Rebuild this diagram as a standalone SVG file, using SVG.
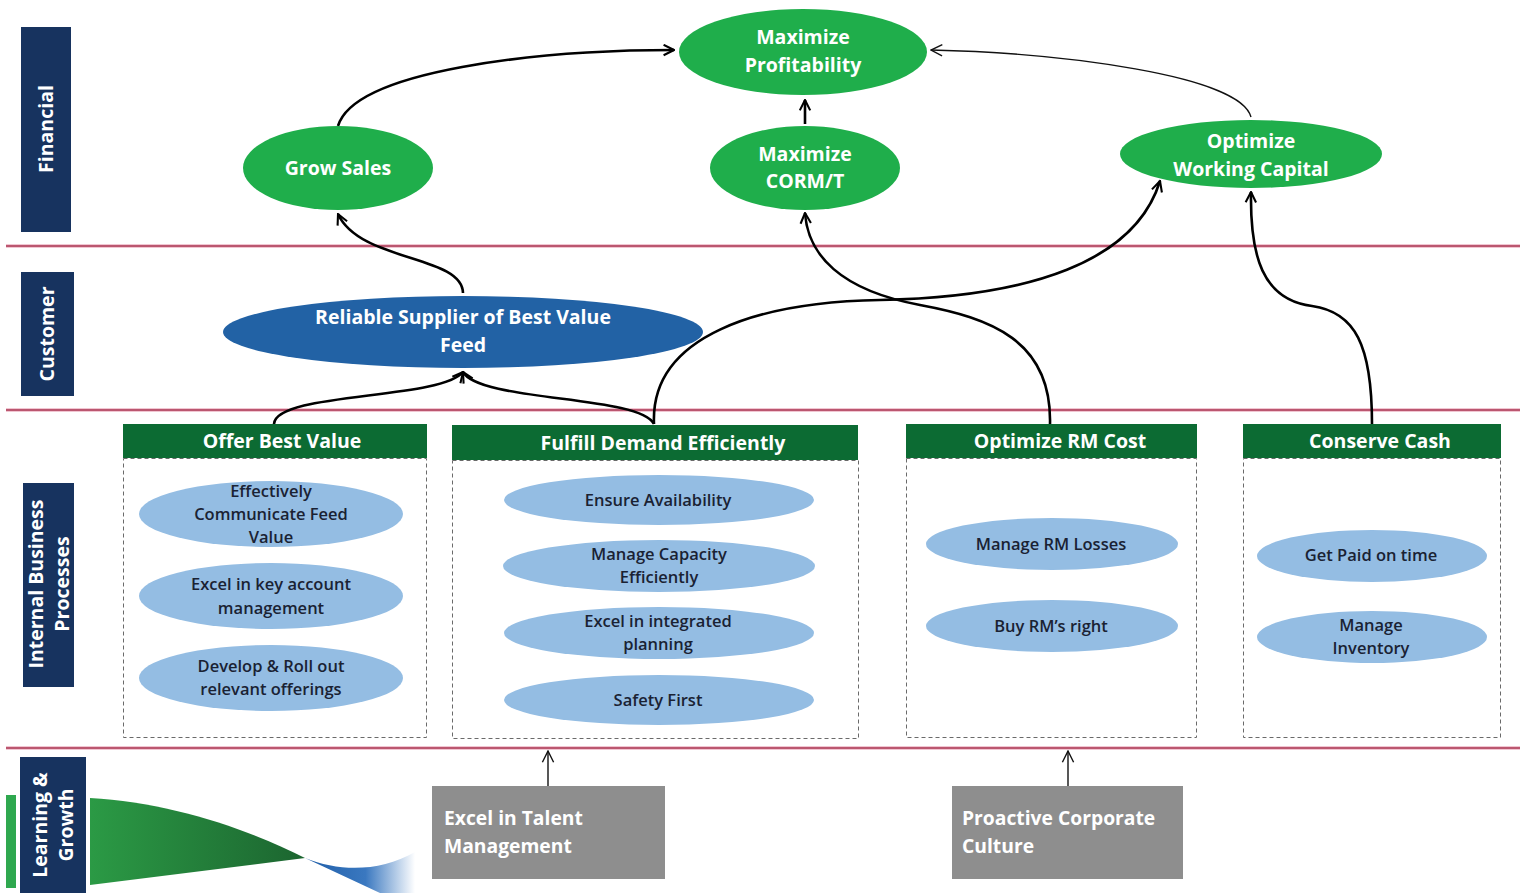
<svg xmlns="http://www.w3.org/2000/svg" width="1524" height="893" viewBox="0 0 1524 893">
  <defs>
    <style>
      .lane { fill: #17335f; }
      .laneText { fill: #ffffff; font-family: "Open Sans", Lato, sans-serif; font-weight: bold; font-size: 19.5px; text-anchor: middle; }
      .sep { stroke: #a8324f; stroke-width: 1.3; }
      .sepGlow { stroke: #f1c6d2; stroke-width: 4; }
      .fin { fill: #1fae4b; }
      .finText { fill: #ffffff; font-family: "Open Sans", Lato, sans-serif; font-weight: bold; font-size: 19.5px; text-anchor: middle; }
      .cust { fill: #2262a5; }
      .hdr { fill: #0c6b33; }
      .hdrText { fill: #ffffff; font-family: "Open Sans", Lato, sans-serif; font-weight: bold; font-size: 19.5px; text-anchor: middle; }
      .box { fill: none; stroke: #6a6a6a; stroke-width: 1; stroke-dasharray: 4 3; }
      .proc { fill: #94bde3; }
      .procText { fill: #1a2233; font-family: "Open Sans", Lato, sans-serif; font-weight: 600; font-size: 16.5px; text-anchor: middle; }
      .lg { fill: #8e8e8e; }
      .lgText { fill: #ffffff; font-family: "Open Sans", Lato, sans-serif; font-weight: bold; font-size: 19.3px; }
      .conn { fill: none; stroke: #000000; stroke-width: 2.6; }
      .connThin { fill: none; stroke: #111111; stroke-width: 1.4; }
    </style>
    <marker id="arrow" viewBox="0 0 10 10" refX="9" refY="5" markerWidth="5" markerHeight="5" orient="auto" markerUnits="strokeWidth">
      <path d="M1,1 L9,5 L1,9" fill="none" stroke="#000" stroke-width="1.6"/>
    </marker>
    <marker id="arrowThin" viewBox="0 0 10 10" refX="9" refY="5" markerWidth="10" markerHeight="10" orient="auto" markerUnits="strokeWidth">
      <path d="M1,1 L9,5 L1,9" fill="none" stroke="#111" stroke-width="1"/>
    </marker>
    <linearGradient id="greenWedge" x1="0" y1="0" x2="1" y2="0">
      <stop offset="0" stop-color="#2b9a45"/>
      <stop offset="1" stop-color="#1c6530"/>
    </linearGradient>
    <linearGradient id="blueWedge" x1="0" y1="0" x2="1" y2="0">
      <stop offset="0" stop-color="#1f5ea8"/>
      <stop offset="0.55" stop-color="#3a78c0"/>
      <stop offset="1" stop-color="#ffffff"/>
    </linearGradient>
  </defs>

  <rect width="1524" height="893" fill="#ffffff"/>

  <!-- lane separators -->
  <g id="separators">
    <line class="sepGlow" x1="6" y1="246" x2="1520" y2="246"/>
    <line class="sep" x1="6" y1="246" x2="1520" y2="246"/>
    <line class="sepGlow" x1="6" y1="410" x2="1520" y2="410"/>
    <line class="sep" x1="6" y1="410" x2="1520" y2="410"/>
    <line class="sepGlow" x1="6" y1="748" x2="1520" y2="748"/>
    <line class="sep" x1="6" y1="748" x2="1520" y2="748"/>
  </g>

  <!-- lane labels -->
  <g id="lane-financial">
    <rect class="lane" x="21" y="27" width="50" height="205"/>
    <text class="laneText" transform="translate(53,129) rotate(-90)">Financial</text>
  </g>
  <g id="lane-customer">
    <rect class="lane" x="21" y="272" width="53" height="124"/>
    <text class="laneText" transform="translate(54,334) rotate(-90)">Customer</text>
  </g>
  <g id="lane-internal">
    <rect class="lane" x="23" y="483" width="51" height="204"/>
    <text class="laneText" transform="translate(43,584) rotate(-90)">Internal Business</text>
    <text class="laneText" transform="translate(69,584) rotate(-90)">Processes</text>
  </g>
  <g id="lane-learning">
    <rect x="6" y="795" width="10" height="93" fill="#2fa84f"/>
    <rect class="lane" x="20" y="757" width="66" height="136"/>
    <text class="laneText" transform="translate(47,825) rotate(-90)">Learning &amp;</text>
    <text class="laneText" transform="translate(73,825) rotate(-90)">Growth</text>
    <path d="M90,798 C170,802 250,830 305,858 L90,885 Z" fill="url(#greenWedge)"/>
    <path d="M305,858 C340,872 380,872 415,852 L415,893 L380,893 Z" fill="url(#blueWedge)"/>
  </g>

  <!-- connectors -->
  <g id="connectors">
    <path class="conn" marker-end="url(#arrow)" d="M338,126 C355,70 540,50 674,50"/>
    <path class="connThin" marker-end="url(#arrowThin)" d="M1251,117 C1240,75 1060,53 931,50"/>
    <path class="conn" marker-end="url(#arrow)" d="M805,124 L805,100"/>
    <path class="conn" marker-end="url(#arrow)" d="M463,293 C462,255 360,262 338,214"/>
    <path class="conn" marker-end="url(#arrow)" d="M274,424 C276,392 440,400 463,372"/>
    <path class="conn" marker-end="url(#arrow)" d="M654,424 C640,395 480,402 463,372"/>
    <path class="conn" marker-end="url(#arrow)" d="M654,424 C650,335 760,302 880,300 C1030,297 1135,262 1160,181"/>
    <path class="conn" marker-end="url(#arrow)" d="M1050,424 C1052,340 990,318 920,305 C840,290 808,255 805,213"/>
    <path class="conn" marker-end="url(#arrow)" d="M1372,424 C1372,345 1355,312 1312,306 C1262,300 1250,255 1251,192"/>
    <path class="connThin" marker-end="url(#arrowThin)" d="M548,786 L548,751"/>
    <path class="connThin" marker-end="url(#arrowThin)" d="M1068,786 L1068,751"/>
  </g>

  <!-- financial objectives -->
  <g id="maximize-profitability">
    <ellipse class="fin" cx="803" cy="52" rx="124" ry="43"/>
    <text class="finText" x="803" y="44">Maximize</text>
    <text class="finText" x="803" y="72">Profitability</text>
  </g>
  <g id="grow-sales">
    <ellipse class="fin" cx="338" cy="168" rx="95" ry="42"/>
    <text class="finText" x="338" y="175">Grow Sales</text>
  </g>
  <g id="maximize-corm">
    <ellipse class="fin" cx="805" cy="168" rx="95" ry="42"/>
    <text class="finText" x="805" y="161">Maximize</text>
    <text class="finText" x="805" y="188">CORM/T</text>
  </g>
  <g id="optimize-working-capital">
    <ellipse class="fin" cx="1251" cy="154" rx="131" ry="34"/>
    <text class="finText" x="1251" y="148">Optimize</text>
    <text class="finText" x="1251" y="176">Working Capital</text>
  </g>

  <!-- customer objective -->
  <g id="reliable-supplier">
    <ellipse class="cust" cx="463" cy="332" rx="240" ry="36"/>
    <text class="finText" x="463" y="324">Reliable Supplier of Best Value</text>
    <text class="finText" x="463" y="352">Feed</text>
  </g>

  <!-- internal business processes -->
  <g id="offer-best-value">
    <rect class="box" x="123.5" y="458.5" width="303" height="279"/>
    <rect class="hdr" x="123" y="424" width="304" height="34"/>
    <text class="hdrText" x="282" y="448">Offer Best Value</text>
    <ellipse class="proc" cx="271" cy="514" rx="132" ry="33"/>
    <text class="procText" x="271" y="497">Effectively</text>
    <text class="procText" x="271" y="520">Communicate Feed</text>
    <text class="procText" x="271" y="543">Value</text>
    <ellipse class="proc" cx="271" cy="596" rx="132" ry="33"/>
    <text class="procText" x="271" y="590">Excel in key account</text>
    <text class="procText" x="271" y="614">management</text>
    <ellipse class="proc" cx="271" cy="678" rx="132" ry="33"/>
    <text class="procText" x="271" y="672">Develop &amp; Roll out</text>
    <text class="procText" x="271" y="695">relevant offerings</text>
  </g>
  <g id="fulfill-demand">
    <rect class="box" x="452.5" y="460.5" width="406" height="278"/>
    <rect class="hdr" x="452" y="425" width="406" height="35"/>
    <text class="hdrText" x="663" y="450">Fulfill Demand Efficiently</text>
    <ellipse class="proc" cx="659" cy="500" rx="155" ry="25"/>
    <text class="procText" x="658" y="506">Ensure Availability</text>
    <ellipse class="proc" cx="659" cy="566" rx="156" ry="26"/>
    <text class="procText" x="659" y="560">Manage  Capacity</text>
    <text class="procText" x="659" y="583">Efficiently</text>
    <ellipse class="proc" cx="659" cy="633" rx="155" ry="26"/>
    <text class="procText" x="658" y="627">Excel in integrated</text>
    <text class="procText" x="658" y="650">planning</text>
    <ellipse class="proc" cx="659" cy="700" rx="155" ry="25"/>
    <text class="procText" x="658" y="706">Safety First</text>
  </g>
  <g id="optimize-rm-cost">
    <rect class="box" x="906.5" y="458.5" width="290" height="279"/>
    <rect class="hdr" x="906" y="424" width="291" height="34"/>
    <text class="hdrText" x="1060" y="448">Optimize RM Cost</text>
    <ellipse class="proc" cx="1052" cy="544" rx="126" ry="26"/>
    <text class="procText" x="1051" y="550">Manage  RM  Losses</text>
    <ellipse class="proc" cx="1052" cy="626" rx="126" ry="26"/>
    <text class="procText" x="1051" y="632">Buy RM’s  right</text>
  </g>
  <g id="conserve-cash">
    <rect class="box" x="1243.5" y="458.5" width="257" height="279"/>
    <rect class="hdr" x="1243" y="424" width="258" height="34"/>
    <text class="hdrText" x="1380" y="448">Conserve Cash</text>
    <ellipse class="proc" cx="1372" cy="556" rx="115" ry="26"/>
    <text class="procText" x="1371" y="561">Get Paid on time</text>
    <ellipse class="proc" cx="1372" cy="637" rx="115" ry="26"/>
    <text class="procText" x="1371" y="631">Manage</text>
    <text class="procText" x="1371" y="654">Inventory</text>
  </g>

  <!-- learning and growth -->
  <g id="talent-management">
    <rect class="lg" x="432" y="786" width="233" height="93"/>
    <text class="lgText" x="444" y="825">Excel in Talent</text>
    <text class="lgText" x="444" y="853">Management</text>
  </g>
  <g id="corporate-culture">
    <rect class="lg" x="952" y="786" width="231" height="93"/>
    <text class="lgText" x="962" y="825">Proactive Corporate</text>
    <text class="lgText" x="962" y="853">Culture</text>
  </g>
</svg>
